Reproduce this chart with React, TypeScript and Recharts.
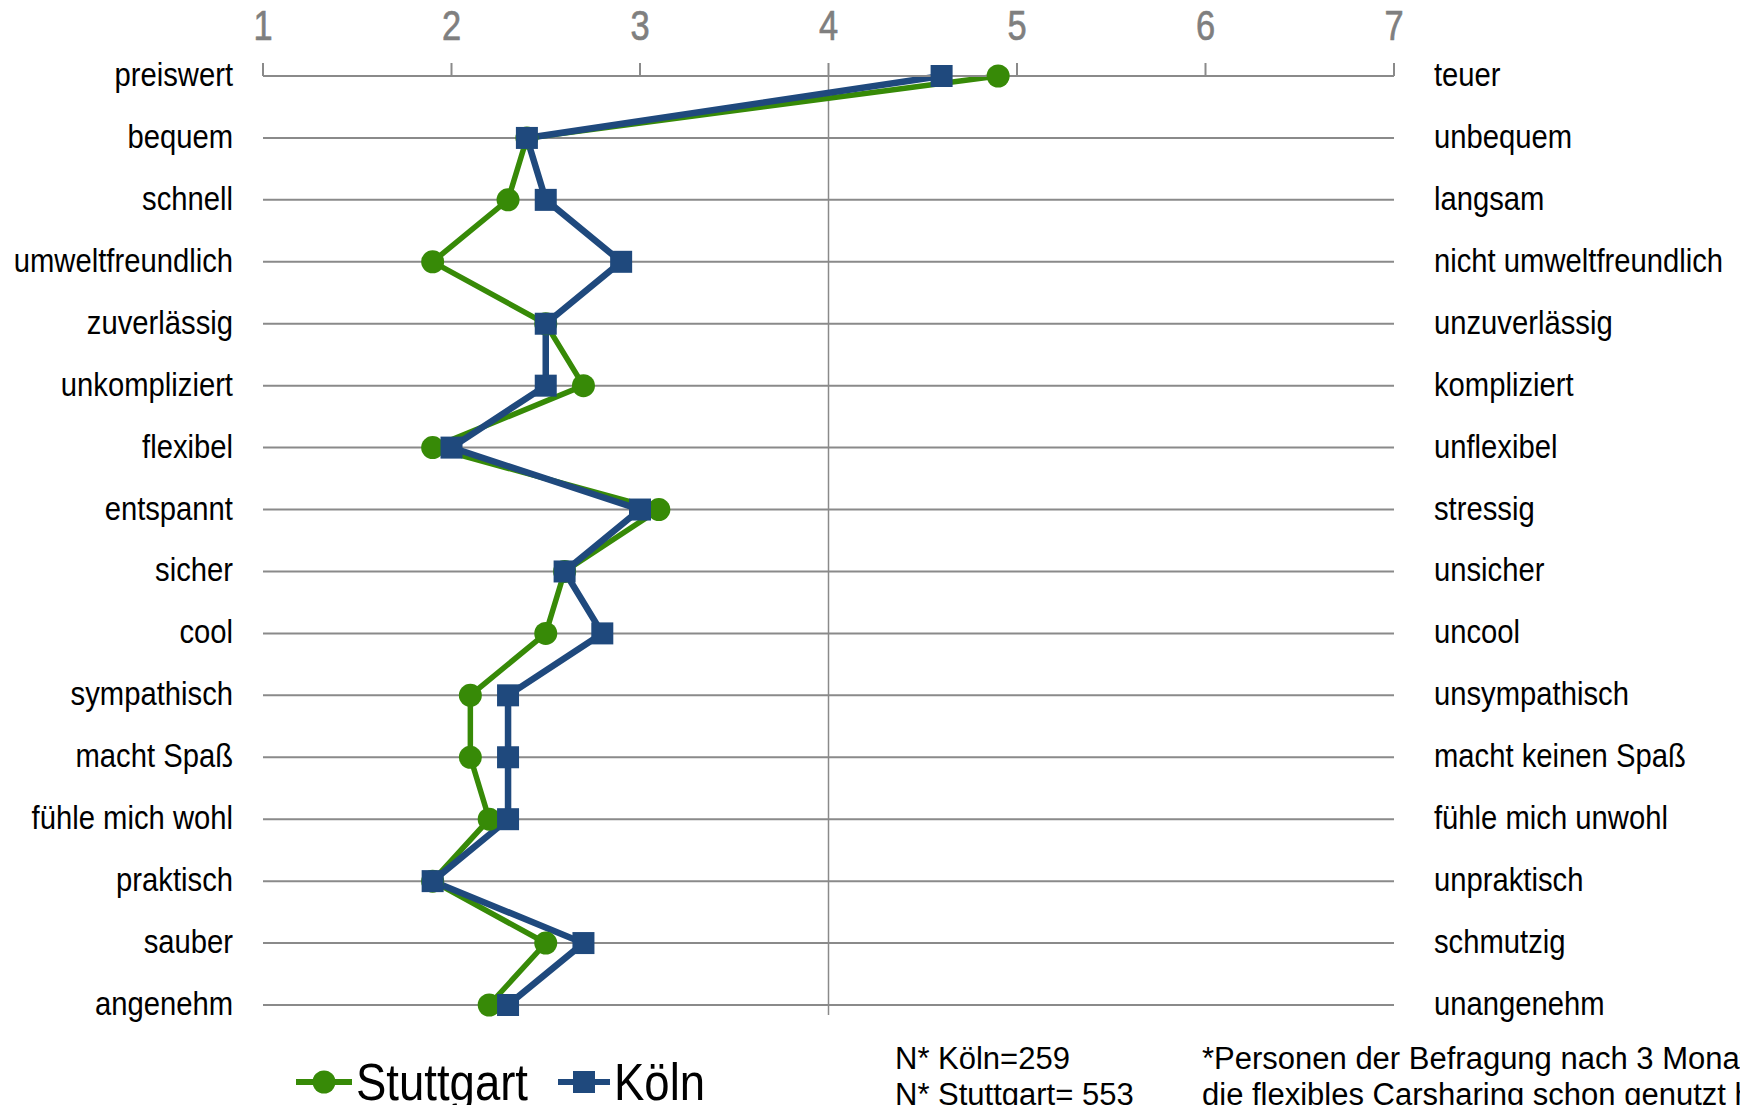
import React from 'react';
import { LineChart, Line, XAxis, YAxis, CartesianGrid, ReferenceLine } from 'recharts';

const leftLabels = ['preiswert', 'bequem', 'schnell', 'umweltfreundlich', 'zuverlässig', 'unkompliziert', 'flexibel', 'entspannt', 'sicher', 'cool', 'sympathisch', 'macht Spaß', 'fühle mich wohl', 'praktisch', 'sauber', 'angenehm'];
const rightLabels = ['teuer', 'unbequem', 'langsam', 'nicht umweltfreundlich', 'unzuverlässig', 'kompliziert', 'unflexibel', 'stressig', 'unsicher', 'uncool', 'unsympathisch', 'macht keinen Spaß', 'fühle mich unwohl', 'unpraktisch', 'schmutzig', 'unangenehm'];
const stuttgart = [4.9, 2.4, 2.3, 1.9, 2.5, 2.7, 1.9, 3.1, 2.6, 2.5, 2.1, 2.1, 2.2, 1.9, 2.5, 2.2];
const koeln = [4.6, 2.4, 2.5, 2.9, 2.5, 2.5, 2.0, 3.0, 2.6, 2.8, 2.3, 2.3, 2.3, 1.9, 2.7, 2.3];
const xTicks = [1, 2, 3, 4, 5, 6, 7];
const rowIdx = leftLabels.map((_, i) => i);
const footLeft = ['N* Köln=259', 'N* Stuttgart= 553'];
const footRight = ['*Personen der Befragung nach 3 Monaten,', 'die flexibles Carsharing schon genutzt haben'];

const data = rowIdx.map((i) => ({ idx: i, left: leftLabels[i], right: rightLabels[i], stuttgart: stuttgart[i], koeln: koeln[i] }));

const GRAY = '#8a8a8a';
const TICKGRAY = '#7f7f7f';
const GREEN = '#378a07';
const BLUE = '#1f497d';
const REG = "'Liberation Sans', Arial, sans-serif";

const TopTick = (p: any) => (
  <text transform={`translate(${p.x},${p.y}) scale(0.82,1)`} textAnchor="middle" fill={TICKGRAY} stroke={TICKGRAY} strokeWidth={0.7} fontFamily={REG} fontSize={42}>{p.payload.value}</text>
);
const LeftTick = (p: any) => (
  <text transform={`translate(${p.x},${p.y + 10}) scale(0.86,1)`} textAnchor="end" fill="#000" fontFamily={REG} fontSize={34}>{leftLabels[p.payload.value]}</text>
);
const RightTick = (p: any) => (
  <text transform={`translate(${p.x},${p.y + 10}) scale(0.86,1)`} textAnchor="start" fill="#000" fontFamily={REG} fontSize={34}>{rightLabels[p.payload.value]}</text>
);

const SquareDot = (p: any) => {
  const s = 22;
  return <rect key={p.index} x={p.cx - s / 2} y={p.cy - s / 2} width={s} height={s} fill={BLUE} />;
};

const legendText: React.CSSProperties = { display: 'inline-block', transform: 'scaleX(0.875)', transformOrigin: 'left center' };

export default function App() {
  return (
    <div style={{ position: 'absolute', left: 0, top: 0, width: 1740, height: 1105, overflow: 'hidden', background: '#fff' }}>
      <LineChart width={1740} height={1105} data={data} layout="vertical" margin={{ top: 75, right: 345, bottom: 100, left: 262 }}>
        <CartesianGrid yAxisId="left" horizontal={true} vertical={false} stroke={GRAY} strokeWidth={2} />
        <XAxis type="number" orientation="top" domain={[1, 7]} ticks={xTicks} height={1} tickSize={13} tickMargin={23}
          axisLine={{ stroke: GRAY, strokeWidth: 2 }} tickLine={{ stroke: GRAY, strokeWidth: 2 }} tick={<TopTick />} interval={0} />
        <YAxis yAxisId="left" type="number" dataKey="idx" domain={[0, 15]} ticks={rowIdx} interval={0} width={1}
          orientation="left" axisLine={false} tickLine={false} tickSize={0} tickMargin={30} tick={<LeftTick />} />
        <YAxis yAxisId="right" type="number" dataKey="idx" domain={[0, 15]} ticks={rowIdx} interval={0} width={1}
          orientation="right" axisLine={false} tickLine={false} tickSize={0} tickMargin={40} tick={<RightTick />} />
        <ReferenceLine yAxisId="left" segment={[{ x: 4, y: 0 }, { x: 4, y: 15.16 }]} ifOverflow="visible" stroke={GRAY} strokeWidth={1.5} />
        <Line yAxisId="left" dataKey="stuttgart" stroke={GREEN} strokeWidth={5.5} isAnimationActive={false}
          dot={{ r: 11.5, fill: GREEN, stroke: 'none' }} />
        <Line yAxisId="left" dataKey="koeln" stroke={BLUE} strokeWidth={6.5} isAnimationActive={false} dot={<SquareDot />} />
      </LineChart>

      <div style={{ position: 'absolute', left: 296, top: 1052, display: 'flex', alignItems: 'center', fontFamily: REG, fontSize: 52, color: '#000', whiteSpace: 'nowrap', lineHeight: '60px' }}>
        <svg width={58} height={30} style={{ marginRight: 2 }}>
          <line x1={0} y1={15} x2={56} y2={15} stroke={GREEN} strokeWidth={6} />
          <circle cx={28} cy={15} r={11.5} fill={GREEN} />
        </svg>
        <span style={{ ...legendText, width: 172 }}>Stuttgart</span>
        <svg width={54} height={30} style={{ marginLeft: 30, marginRight: 2 }}>
          <line x1={0} y1={15} x2={52} y2={15} stroke={BLUE} strokeWidth={6} />
          <rect x={15} y={4} width={22} height={22} fill={BLUE} />
        </svg>
        <span style={legendText}>Köln</span>
      </div>

      <div style={{ position: 'absolute', left: 895, top: 1041, fontFamily: REG, fontSize: 31, lineHeight: '36px', color: '#000', whiteSpace: 'nowrap' }}>
        {footLeft.map((t) => <div key={t}>{t}</div>)}
      </div>
      <div style={{ position: 'absolute', left: 1202, top: 1041, fontFamily: REG, fontSize: 31, lineHeight: '36px', color: '#000', whiteSpace: 'nowrap' }}>
        {footRight.map((t) => <div key={t}>{t}</div>)}
      </div>
    </div>
  );
}
